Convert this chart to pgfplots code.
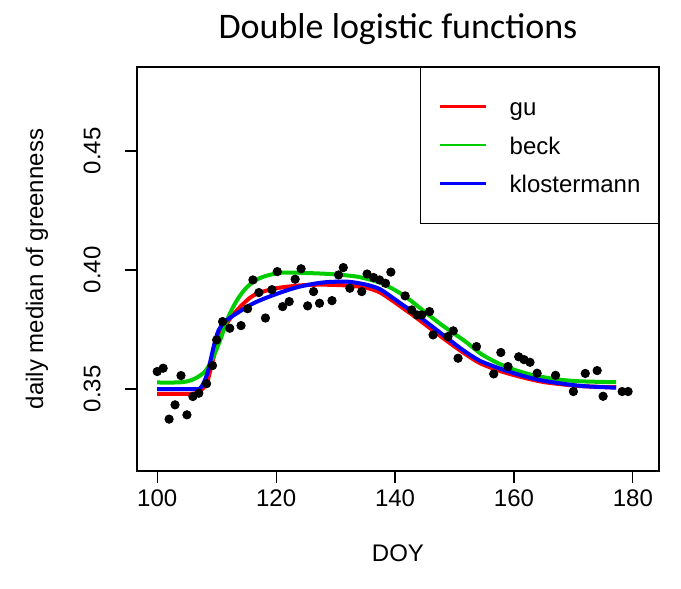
\documentclass[border=0pt]{standalone}
\usepackage{fontspec}
\setmainfont{Liberation Sans}
\newfontfamily\titlefont{Carlito}
\usepackage{pgfplots}
\pgfplotsset{compat=1.18}
\definecolor{gthree}{rgb}{0,0.8039,0}
\begin{document}
\begin{tikzpicture}
\useasboundingbox (-68.5pt,-59pt) rectangle (272pt,235.5pt);
\begin{axis}[
 at={(0pt,0pt)}, anchor=south west,
 scale only axis, width=261pt, height=202pt,
 xmin=96.6, xmax=184.4, ymin=0.3155, ymax=0.4853,
 xtick={100,120,140,160,180}, xticklabels={100,120,140,160,180},
 ytick={0.35,0.40,0.45}, yticklabels={0.35,0.40,0.45},
 xtick pos=bottom, ytick pos=left, tick align=outside,
 major tick length=6pt,
 every tick/.style={black, line width=0.6pt},
 axis line style={line width=0.6pt},
 tick label style={font=\fontsize{12}{14}\selectfont},
 yticklabel style={xshift=-12pt, rotate=90, anchor=south, inner sep=0pt},
 title={Double logistic functions},
 title style={font=\titlefont\fontsize{18}{21}\selectfont, at={(axis description cs:0.5,1.040)}, anchor=base},
 xlabel={DOY},
 xlabel style={at={(axis description cs:0.5,-0.203)}, anchor=center, font=\fontsize{12}{14}\selectfont},
 ylabel={daily median of greenness},
 ylabel style={at={(axis description cs:-0.1916,0.5)}, anchor=center, font=\fontsize{12}{14}\selectfont},
 legend style={at={(axis description cs:1,1)}, anchor=north east, draw=black, line width=0.6pt,
   font=\fontsize{12}{14}\selectfont, inner xsep=9pt, inner ysep=15pt, row sep=9.85pt, column sep=11.3pt,
   nodes={inner sep=0pt, text height=9pt, text depth=0.4pt}},
 legend cell align=left,
 legend image code/.code={\draw[#1] (0pt,0.25pt) -- (23pt,0.25pt);},
]
\addlegendimage{draw=red, line width=1.2pt}
\addlegendentry{gu}
\addlegendimage{draw=gthree, line width=1.2pt}
\addlegendentry{beck}
\addlegendimage{draw=blue, line width=1.2pt}
\addlegendentry{klostermann}
\addplot[only marks, mark=*, mark size=2.1pt, black, forget plot] coordinates {
(100,0.3573) (101,0.3587) (102,0.3373) (103,0.3433) (104,0.3556) (105,0.3391)
(106,0.3468) (107,0.3482) (108.3,0.3522) (109.3,0.3598) (110,0.3706) (111,0.3783)
(112.2,0.3755) (114.1,0.3766) (115.2,0.3837) (116.1,0.3958) (117.1,0.3905) (118.2,0.3798)
(119.3,0.3917) (120.2,0.3993) (121.1,0.3846) (122.2,0.3867) (123.2,0.3961) (124.2,0.4005)
(125.3,0.3849) (126.3,0.3909) (127.3,0.3860) (129.4,0.3871) (130.5,0.3979) (131.3,0.4010)
(132.4,0.3923) (134.4,0.3909) (135.3,0.3983) (136.4,0.3968) (137.4,0.3958) (138.4,0.3944)
(139.3,0.3991) (141.7,0.3891) (142.8,0.3832) (143.7,0.3811) (144.5,0.3811) (145.8,0.3825)
(146.4,0.3727) (148.9,0.3720) (149.8,0.3744) (150.6,0.3629) (153.7,0.3678) (156.6,0.3563)
(157.8,0.3653) (159.0,0.3594) (160.8,0.3635) (161.7,0.3623) (162.7,0.3612) (163.9,0.3566)
(167.0,0.3557) (170.0,0.3489) (172.0,0.3565) (174.0,0.3577) (175.0,0.3469) (178.2,0.3489)
(179.2,0.3489)
};
\addplot[color=red, line width=2pt, smooth, forget plot] coordinates {
(100,0.3479) (104,0.3479) (106,0.3480) (106.8,0.3485) (107.6,0.3500) (108.4,0.3528)
(109.2,0.3605) (110.3,0.3706) (111.1,0.3750) (112.3,0.3797) (114,0.3846) (116.2,0.3893)
(119.6,0.3921) (124,0.3935) (128,0.3938) (132.4,0.3934) (135.2,0.3925) (137.4,0.3906)
(139.5,0.3872) (141.3,0.3840) (143.1,0.3808) (145.9,0.3755) (148.7,0.3702) (151.5,0.3652)
(154.3,0.3608) (157.6,0.3576) (160,0.3558) (162.5,0.3542) (165.5,0.3527) (171.1,0.3512)
(177.2,0.3507)
};
\addplot[color=gthree, line width=2pt, smooth, forget plot] coordinates {
(100,0.3527) (103,0.3527) (104.4,0.3529) (105.5,0.3535) (106.7,0.3548) (108.1,0.3575)
(109.2,0.3622) (110.6,0.3706) (112,0.3804) (113.4,0.3872) (115.1,0.3928) (117.3,0.3966)
(120.7,0.3988) (125.2,0.3987) (129.6,0.3982) (133.6,0.3972) (136.4,0.3955) (137.4,0.3948)
(139.5,0.3922) (141.7,0.3889) (143.8,0.3848) (145.9,0.3806) (147.9,0.3768) (149.8,0.3735)
(152,0.3696) (154.3,0.3650) (156,0.3625) (157.6,0.3605) (159.9,0.3582) (162.5,0.3562)
(165.5,0.3547) (168,0.3538) (171.1,0.3532) (177.2,0.3528)
};
\addplot[color=blue, line width=2pt, smooth, forget plot] coordinates {
(100,0.3499) (106,0.3499) (107.2,0.3502) (107.9,0.3530) (108.6,0.3580) (109.5,0.3678)
(110.3,0.3745) (111.4,0.3783) (113.4,0.3818) (116.2,0.3860) (119.6,0.3895) (123.5,0.3927)
(127.4,0.3946) (130.5,0.3951) (132.4,0.3950) (135.2,0.3938) (137.4,0.3920) (139.5,0.3885)
(141.3,0.3853) (143.1,0.3822) (145.9,0.3769) (148.7,0.3715) (151.5,0.3662) (154.3,0.3618)
(157.6,0.3586) (160,0.3566) (162.5,0.3548) (165.5,0.3532) (171.1,0.3513) (177.2,0.3505)
};
\end{axis}
\end{tikzpicture}
\end{document}
